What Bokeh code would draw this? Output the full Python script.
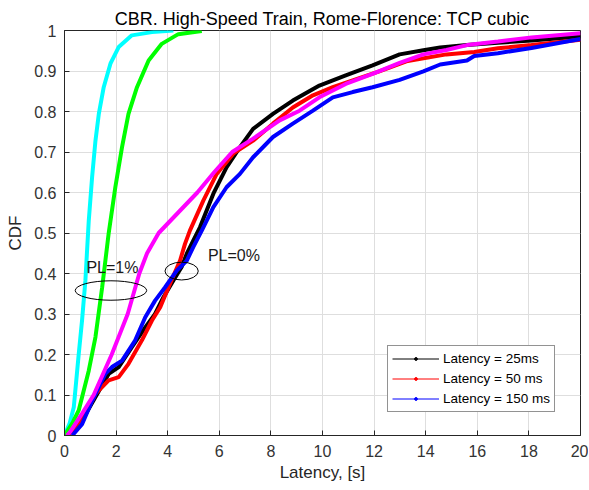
from bokeh.plotting import figure
from bokeh.models import Range1d, FixedTicker, NumeralTickFormatter, Legend, LegendItem
from bokeh.core.properties import value
from bokeh.embed import file_html
from bokeh.resources import INLINE

# ---- data ----
x_ticks = [0, 2, 4, 6, 8, 10, 12, 14, 16, 18, 20]
y_ticks = [0, 0.1, 0.2, 0.3, 0.4, 0.5, 0.6, 0.7, 0.8, 0.9, 1.0]

cyan_x = [0.0, 0.2, 0.36, 0.55, 0.68, 0.81, 0.94, 1.07, 1.20, 1.33, 1.52, 1.78, 2.10, 2.61, 3.39, 4.22]
cyan_y = [0.0, 0.03, 0.07, 0.20, 0.284, 0.383, 0.53, 0.638, 0.728, 0.794, 0.86, 0.918, 0.959, 0.988, 0.996, 1.0]

green_x = [0.0, 0.3, 0.55, 0.94, 1.2, 1.46, 1.71, 1.97, 2.23, 2.48, 2.81, 3.26, 3.77, 4.41, 5.32]
green_y = [0.0, 0.03, 0.062, 0.16, 0.243, 0.366, 0.498, 0.613, 0.712, 0.794, 0.86, 0.926, 0.967, 0.991, 0.999]

magenta_x = [0.1, 0.23, 0.68, 1.13, 1.83, 2.45, 2.9, 3.2, 3.65, 4.4, 5.15, 5.8, 6.5, 7.31, 8.34,
             9.11, 9.88, 10.9, 11.94, 12.99, 13.91, 14.8, 15.6, 16.8, 18.1, 20.0]
magenta_y = [0.0, 0.01, 0.054, 0.1, 0.2, 0.3, 0.4, 0.45, 0.5, 0.55, 0.6, 0.65, 0.7,
             0.733, 0.778, 0.802, 0.835, 0.868, 0.893, 0.92, 0.941, 0.952, 0.964, 0.973, 0.983, 0.993]

black_x = [0.1, 0.68, 1.2, 1.71, 2.1, 2.61, 3.13, 3.51, 3.83, 4.22, 4.54, 4.74, 4.99, 5.25, 5.77, 6.28,
           6.8, 7.31, 8.08, 8.85, 9.88, 10.9, 11.94, 12.99, 13.91, 14.56, 15.6, 16.8, 18.1, 20.0]
black_y = [0.0, 0.037, 0.095, 0.152, 0.169, 0.218, 0.267, 0.30, 0.341, 0.383, 0.416, 0.449, 0.481, 0.514,
           0.597, 0.662, 0.712, 0.757, 0.794, 0.827, 0.864, 0.889, 0.914, 0.941, 0.951, 0.958, 0.964, 0.970,
           0.975, 0.985]

red_x = [0.1, 0.68, 1.2, 1.71, 2.1, 2.48, 3.0, 3.39, 3.71, 4.09, 4.48, 4.67, 4.86, 5.38, 5.9, 6.54, 7.31,
         8.08, 8.85, 9.63, 10.4, 11.17, 12.2, 13.25, 14.8, 15.88, 16.8, 18.1, 20.0]
red_y = [0.0, 0.037, 0.103, 0.136, 0.144, 0.177, 0.235, 0.284, 0.317, 0.375, 0.432, 0.473, 0.506, 0.58,
         0.646, 0.696, 0.728, 0.77, 0.81, 0.84, 0.86, 0.877, 0.899, 0.924, 0.941, 0.947, 0.956, 0.964, 0.977]

blue_x = [0.3, 0.68, 1.07, 1.58, 1.84, 2.23, 2.74, 3.13, 3.51, 3.9, 4.35, 4.74, 4.99, 5.32, 5.77, 6.28,
          6.8, 7.31, 8.08, 8.85, 9.63, 10.4, 11.17, 11.94, 12.99, 13.91, 14.56, 15.6, 15.88, 16.8, 18.1, 20.0]
blue_y = [0.0, 0.028, 0.085, 0.152, 0.169, 0.185, 0.235, 0.292, 0.333, 0.366, 0.407, 0.432, 0.465, 0.506,
          0.564, 0.613, 0.646, 0.687, 0.737, 0.77, 0.802, 0.835, 0.848, 0.86, 0.878, 0.899, 0.916, 0.926,
          0.937, 0.944, 0.957, 0.979]

legend_labels = ["Latency = 25ms", "Latency = 50 ms", "Latency = 150 ms"]
legend_colors = ["#000000", "#ff0000", "#0000ff"]

# annotations
pl1_text = "PL=1%"
pl1_pos = (0.85, 0.414)
pl1_ellipse = (1.80, 0.358, 2.77, 0.048)
pl0_text = "PL=0%"
pl0_pos = (5.56, 0.444)
pl0_ellipse = (4.54, 0.406, 1.29, 0.044)

FONT = "Liberation Sans"
AX = "#262626"

p = figure(frame_width=516, frame_height=405, output_backend="svg", toolbar_location=None,
           x_range=Range1d(0, 20), y_range=Range1d(0, 1),
           min_border_left=64, min_border_right=8, min_border_top=30, min_border_bottom=52)

p.title.text = "CBR. High-Speed Train, Rome-Florence: TCP cubic"
p.title.text_font = FONT
p.title.text_font_size = "18px"
p.title.text_font_style = "normal"
p.title.align = "center"
p.title.text_color = "#000000"
p.title.standoff = 4

p.outline_line_color = AX
p.outline_line_alpha = 1.0
p.background_fill_color = "white"
p.border_fill_color = "white"

xax = p.below[0]
yax = p.left[0]
for ax in (xax, yax):
    ax.major_tick_in = 5
    ax.major_tick_out = 0
    ax.minor_tick_in = 0
    ax.minor_tick_out = 0
    ax.axis_line_color = AX
    ax.major_tick_line_color = AX
    ax.major_label_text_font = FONT
    ax.major_label_text_font_size = "16px"
    ax.major_label_text_color = "#333333"
    ax.axis_label_text_font = FONT
    ax.axis_label_text_font_size = "17px"
    ax.axis_label_text_font_style = "normal"
    ax.axis_label_text_color = "#262626"

xax.ticker = FixedTicker(ticks=x_ticks)
yax.ticker = FixedTicker(ticks=y_ticks)
xax.formatter = NumeralTickFormatter(format="0")
yax.formatter = NumeralTickFormatter(format="0.[0]")
xax.axis_label = "Latency, [s]"
yax.axis_label = "CDF"
xax.major_label_standoff = 9
yax.major_label_standoff = 8
xax.axis_label_standoff = 3
yax.axis_label_standoff = 6

p.xgrid.ticker = FixedTicker(ticks=x_ticks)
p.ygrid.ticker = FixedTicker(ticks=y_ticks)
p.grid.grid_line_color = "#dedede"
p.grid.grid_line_alpha = 1.0

LW = 4
p.line(black_x, black_y, color="#000000", line_width=LW)
p.line(red_x, red_y, color="#ff0000", line_width=LW)
p.line(blue_x, blue_y, color="#0000ff", line_width=LW)
p.line(cyan_x, cyan_y, color="#00ffff", line_width=LW)
p.line(green_x, green_y, color="#00ff00", line_width=LW)
p.line(magenta_x, magenta_y, color="#ff00ff", line_width=LW)

p.ellipse(x=[pl1_ellipse[0]], y=[pl1_ellipse[1]], width=pl1_ellipse[2], height=pl1_ellipse[3],
          fill_color=None, line_color="#000000", line_width=1)
p.ellipse(x=[pl0_ellipse[0]], y=[pl0_ellipse[1]], width=pl0_ellipse[2], height=pl0_ellipse[3],
          fill_color=None, line_color="#000000", line_width=1)
p.text(x=[pl1_pos[0]], y=[pl1_pos[1]], text=[pl1_text], text_font=value(FONT), text_font_size="16px",
       text_baseline="middle", text_align="left", text_color="#1a1a1a")
p.text(x=[pl0_pos[0]], y=[pl0_pos[1]], text=[pl0_text], text_font=value(FONT), text_font_size="16px",
       text_baseline="middle", text_align="left", text_color="#1a1a1a")

nan = float("nan")
items = []
for lab, col in zip(legend_labels, legend_colors):
    r1 = p.line([nan], [nan], color=col, line_width=1)
    r2 = p.scatter([nan], [nan], color=col, size=3, marker="circle")
    items.append(LegendItem(label=lab, renderers=[r1, r2]))

legend = Legend(items=items, location=(323, 23), label_text_font=FONT, label_text_font_size="13.5px",
                label_text_color="#000000", glyph_width=47, glyph_height=7, label_height=17,
                label_standoff=4, spacing=3, padding=4, margin=0,
                border_line_color=AX, border_line_width=1, background_fill_color="white",
                background_fill_alpha=1.0)
p.add_layout(legend, "center")

open("out.html", "w").write(file_html(p, INLINE))
